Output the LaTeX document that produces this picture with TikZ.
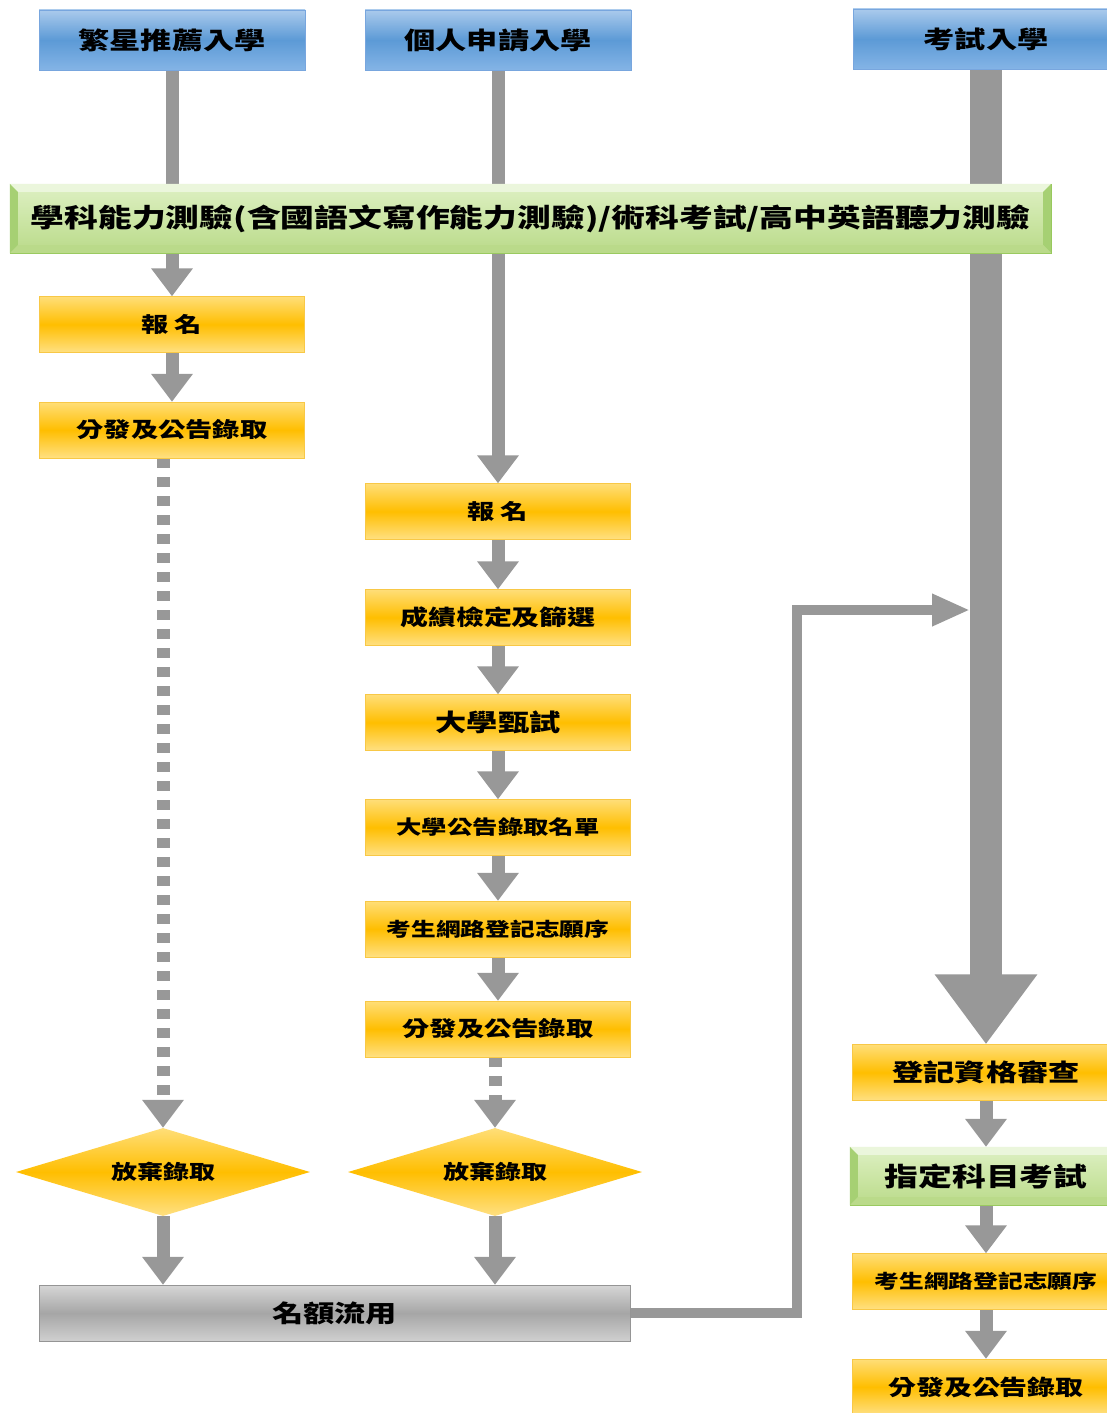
\documentclass[tikz,border=0pt]{standalone}
\usepackage{fontspec}
\newfontfamily\cjk[FakeStretch=1.3]{Noto Sans CJK TC}
\usetikzlibrary{arrows.meta,shapes.geometric,backgrounds}

\definecolor{ar}{RGB}{152,152,152}
\definecolor{bl1}{RGB}{170,202,236}
\definecolor{bl2}{RGB}{92,154,214}
\definecolor{bl3}{RGB}{132,180,230}
\definecolor{bld}{RGB}{120,166,222}
\definecolor{or1}{RGB}{255,222,120}
\definecolor{or2}{RGB}{255,190,0}
\definecolor{or3}{RGB}{255,224,130}
\definecolor{ord}{RGB}{248,200,70}
\definecolor{gr1}{RGB}{222,240,196}
\definecolor{gr2}{RGB}{204,230,166}
\definecolor{gr3}{RGB}{186,218,138}
\definecolor{grd}{RGB}{150,200,90}
\definecolor{gy1}{RGB}{214,214,214}
\definecolor{gy2}{RGB}{166,166,166}
\definecolor{gy3}{RGB}{208,208,208}

\begin{document}
\begin{tikzpicture}[x=1pt, y=-1pt,
  lbl/.style={font=\cjk\bfseries\fontsize{#1}{#1}\selectfont, text=black},
  blue/.style={draw=bld, top color=bl1, bottom color=bl3, middle color=bl2,
    minimum width=266pt, minimum height=60pt, inner sep=0pt},
  obox/.style={draw=ord, top color=or1, bottom color=or3, middle color=or2,
    minimum width=265pt, minimum height=56pt, inner sep=0pt},
  odia/.style={diamond, aspect=3.3, top color=or1, bottom color=or3, middle color=or2,
    minimum width=294pt, minimum height=88pt, inner sep=0pt},
  gbox/.style={draw=grd, top color=gr1, bottom color=gr3, middle color=gr2, inner sep=0pt},
  ybox/.style={draw=gy2!90!black, top color=gy1, bottom color=gy3, middle color=gy2,
    minimum width=591pt, minimum height=56pt, inner sep=0pt},
  arr/.style={color=ar, line width=13pt, -{Triangle[width=40pt,length=28pt]}},
  dots/.style={arr, dash pattern=on 10pt off 9pt},
  big/.style={color=ar, line width=32pt, -{Triangle[width=98pt,length=70pt]}},
  back/.style={color=ar, line width=10pt, line join=miter, -{Triangle[width=30pt,length=38pt]}}]
\useasboundingbox (0,0) rectangle (1107,1413);

% three ways in
\node[blue, lbl=24] (a) at (172,40) {繁星推薦入學};
\node[blue, lbl=24] (b) at (498,40) {個人申請入學};
\node[blue, lbl=24] (c) at (986,39) {考試入學};
\node[gbox, lbl=26, minimum width=1041pt, minimum height=69pt] (t) at (530.5,218.5)
  {學科能力測驗(含國語文寫作能力測驗)/術科考試/高中英語聽力測驗};

% left column
\node[obox, lbl=21] (a1) at (172,324.5) {報\kern6pt 名};
\node[obox, lbl=21] (a2) at (172,430) {分發及公告錄取};
\node[odia, lbl=20] (a3) at (163,1172) {放棄錄取};

% middle column
\node[obox, lbl=21] (b1) at (498,511.5) {報\kern6pt 名};
\node[obox, lbl=21.5] (b2) at (498,617.5) {成績檢定及篩選};
\node[obox, lbl=24] (b3) at (498,722.5) {大學甄試};
\node[obox, lbl=19.5] (b4) at (498,827.5) {大學公告錄取名單};
\node[obox, lbl=19] (b5) at (498,929) {考生網路登記志願序};
\node[obox, lbl=21] (b6) at (498,1029) {分發及公告錄取};
\node[odia, lbl=20] (b7) at (495,1172) {放棄錄取};

\node[ybox, lbl=24] (m) at (334.5,1313) {名額流用};

% right column
\node[obox, lbl=24, minimum width=268pt] (c1) at (986,1072.5) {登記資格審查};
\node[gbox, lbl=26, minimum width=272pt, minimum height=58pt] (c2) at (986,1176) {指定科目考試};
\node[obox, lbl=19, minimum width=268pt] (c3) at (986,1281.5) {考生網路登記志願序};
\node[obox, lbl=21.5, minimum width=268pt] (c4) at (986,1387) {分發及公告錄取};

% bevel on the green bars
\foreach \n in {t,c2} {
  \fill[gr1!60!white] (\n.north west) -- (\n.north east) -- ([xshift=-8pt,yshift=-8pt]\n.north east)
    -- ([xshift=8pt,yshift=-8pt]\n.north west) -- cycle;
  \fill[grd!85!white] (\n.north west) -- ([xshift=8pt,yshift=-8pt]\n.north west)
    -- ([xshift=8pt,yshift=8pt]\n.south west) -- (\n.south west) -- cycle;
  \fill[grd!85!white] (\n.north east) -- ([xshift=-8pt,yshift=-8pt]\n.north east)
    -- ([xshift=-8pt,yshift=8pt]\n.south east) -- (\n.south east) -- cycle;
  \fill[gr3] (\n.south west) -- ([xshift=8pt,yshift=8pt]\n.south west)
    -- ([xshift=-8pt,yshift=8pt]\n.south east) -- (\n.south east) -- cycle;
}

\coordinate (k) at (797,1313);
\coordinate (r) at (970,610);

\begin{scope}[on background layer]
\fill[white] (0,0) rectangle (1107,1413);
\draw[arr] (a) -- (a1);
\draw[arr] (a1) -- (a2);
\draw[dots] (a3.north |- a2.south) -- (a3.north);
\draw[arr] (a3) -- (a3.south |- m.north);
\draw[arr] (b) -- (b1);
\foreach \i/\j in {b1/b2,b2/b3,b3/b4,b4/b5,b5/b6}
  \draw[arr] (\i) -- (\j);
\draw[dots] (b7.north |- b6.south) -- (b7.north);
\draw[arr] (b7) -- (b7.south |- m.north);
\draw[big] (c) -- (c1);
\foreach \i/\j in {c1/c2,c2/c3,c3/c4}
  \draw[arr] (\i) -- (\j);
\draw[back] (m.east) -- (k) |- (r);
\end{scope}
\end{tikzpicture}
\end{document}
